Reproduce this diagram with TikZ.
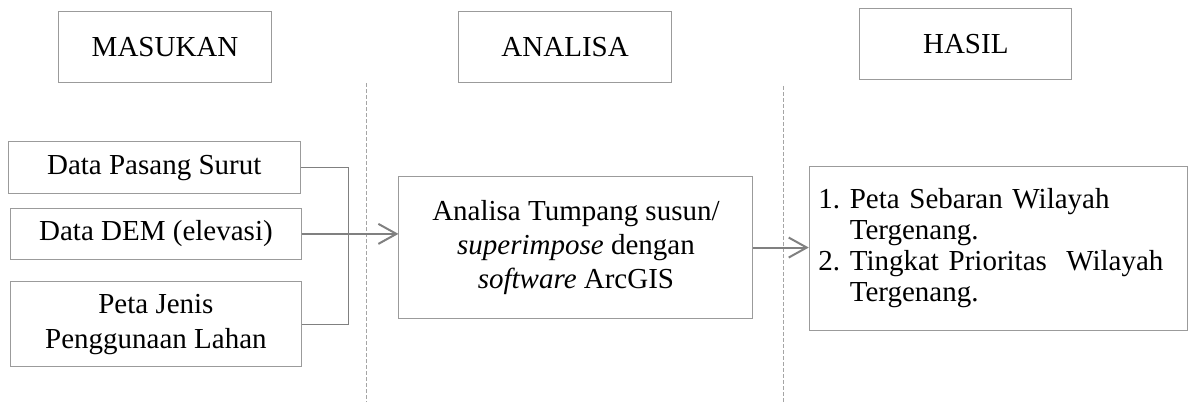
\documentclass[tikz,border=0pt]{standalone}
\usepackage{fontspec}
\setmainfont{Liberation Serif}
\usetikzlibrary{arrows.meta,positioning,calc}
\definecolor{boxgray}{RGB}{155,155,155}
\definecolor{linegray}{RGB}{128,128,128}
\definecolor{dashgray}{RGB}{165,165,165}
\tikzset{
  headbox/.style ={draw=boxgray,line width=0.5pt,align=center,inner sep=0pt,
                   font=\fontsize{14.5}{17}\selectfont,
                   minimum width=3.73cm,minimum height=1.25cm},
  inbox/.style   ={draw=boxgray,line width=0.5pt,align=center,inner sep=0pt,
                   font=\fontsize{14.5}{17.5}\selectfont,minimum width=5.1cm},
  procbox/.style ={draw=boxgray,line width=0.5pt,align=center,inner sep=0pt,
                   font=\fontsize{14.5}{16.8}\selectfont,
                   minimum width=6.22cm,minimum height=2.51cm},
  outbox/.style  ={draw=boxgray,line width=0.5pt,align=left,inner ysep=0pt,
                   inner xsep=0.16cm,text width=6.32cm,
                   font=\fontsize{14.5}{15.4}\selectfont,minimum height=2.88cm},
  flow/.style    ={-{Straight Barb[length=9pt,width=10pt]},linegray,line width=1pt},
  link/.style    ={linegray,line width=0.5pt},
  divider/.style ={dashgray,line width=0.4pt,dash pattern=on 2pt off 1pt},
}
\begin{document}
\begin{tikzpicture}
\useasboundingbox (0,0) rectangle (20.91,7.08);
% column heads
\node[headbox] (masukan) at (2.90,6.25)  {MASUKAN};
\node[headbox] (analisa) at (9.93,6.25)  {ANALISA};
\node[headbox] (hasil)   at (16.97,6.30) {HASIL};
% column dividers
\draw[divider] (6.43,5.62) -- (6.43,0.02);
\draw[divider] (13.76,5.57) -- (13.76,0.02);
% inputs
\node[inbox,minimum width=5.13cm,minimum height=0.91cm] (pasut) at (2.71,4.13) {Data Pasang Surut};
\node[inbox,minimum height=0.90cm] (dem)   at (2.74,2.97) {Data DEM (elevasi)};
\node[inbox,minimum height=1.49cm] (lahan) at (2.74,1.38) {Peta Jenis\\Penggunaan Lahan};
% analysis and result
\node[procbox] (overlay) at (10.12,2.73) {Analisa Tumpang susun/\\\textit{superimpose} dengan\\\textit{software} ArcGIS};
\node[outbox]  (result)  at (17.54,2.71) {\begin{tabular}{@{}l@{\ }l@{}}
1. & Peta Sebaran Wilayah\\
   & Tergenang.\\
2. & Tingkat Prioritas\ \ Wilayah\\
   & Tergenang.
\end{tabular}};
% connectors
\coordinate (join) at (6.12,2.9);
\draw[link] (pasut.east) -| (join |- lahan.east) -- (lahan.east);
\draw[flow] (dem.east) -- (dem.east -| overlay.west);
\draw[flow] (overlay.east) -- (overlay.east -| result.west);
\end{tikzpicture}
\end{document}
